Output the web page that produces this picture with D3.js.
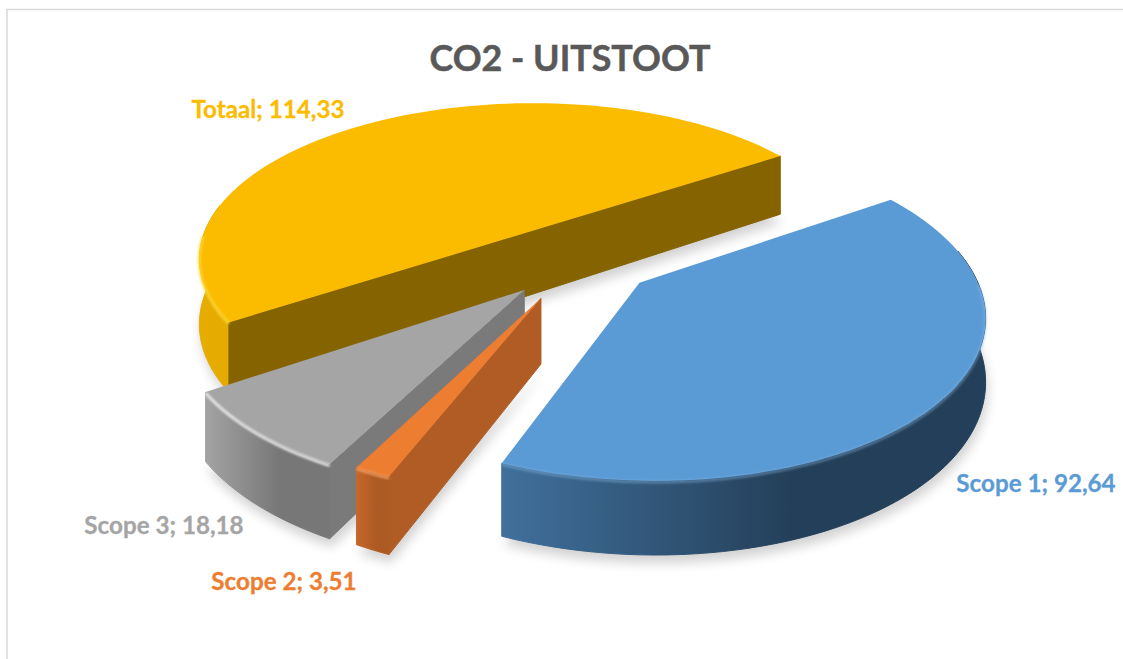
<!DOCTYPE html>
<html>
<head>
<meta charset="utf-8">
<script src="https://cdn.jsdelivr.net/npm/d3@7"></script>
<style>
  html, body { margin: 0; padding: 0; background: #fff; overflow: hidden; }
  text { font-family: Lato, "Open Sans", sans-serif; font-weight: 700; }
</style>
</head>
<body>
<svg id="chart" width="1123" height="659"></svg>
<script>
const categories = ["Scope 1", "Scope 2", "Scope 3", "Totaal"];
const values = [92.64, 3.51, 18.18, 114.33];
const title = "CO2 - UITSTOOT";

const top_colors = ["#5B9BD5", "#ED7D31", "#A5A5A5", "#FBBC00"];
const wall_colors = ["#243F59", "#B15C25", "#7A7A7A", "#856400"];
const rim_stops = [["#40709C", "#243F59"], ["#C4682B", "#AE5A24"], ["#A3A3A3", "#777777"], ["#E6AC00", "#D9A000"]];
const edge_colors = ["#8FC0EE", "#F7A266", "#E4E4E4", "#FFD93A"];
const edge_opacity = [0.4, 0.8, 1, 0.8];
const label_pos = [[1036, 492], [284, 590], [164, 534], [268, 118]];

// ground plane offset, radius and thickness of every slice
const slice_shift = [[77, 86], [-17, 116], [-33, 100], [-30, -20]];
const slice_radius = [324, 312, 325, 328];
const slice_depth = [59, 62, 60, 64];

const view = {cx: 559, cy: 241, k: 0.465, persp: 0.0005, first_angle: 56.5};

function project(u, v, z) {
    const s = 1 / (1 - view.persp * v);
    return [view.cx + u * s, view.cy + view.k * v * s + z * s];
}

const to_rad = Math.PI / 180;
const pie = d3.pie().sort(null).startAngle(view.first_angle * to_rad).endAngle((view.first_angle + 360) * to_rad);
const slices = pie(values).map((d, i) => ({...d, i: i, shift: slice_shift[i], r: slice_radius[i], depth: slice_depth[i]}));

function arc_ground(d) {
    const n = Math.max(4, Math.ceil((d.endAngle - d.startAngle) / to_rad / 2));
    return d3.range(n + 1).map(j => {
        const a = d.startAngle + (d.endAngle - d.startAngle) * j / n;
        return [d.shift[0] + d.r * Math.sin(a), d.shift[1] - d.r * Math.cos(a), a];
    });
}

const line = d3.line();
const at = (p, z) => project(p[0], p[1], z);

// a straight wall can be seen when the top of the slice lies above its edge
function wall_faces_viewer(apex, p, inside) {
    const a = at(apex, 0), b = at(p, 0), c = at(inside, 0);
    const edge_y = a[1] + (b[1] - a[1]) * (c[0] - a[0]) / (b[0] - a[0]);
    return c[1] < edge_y;
}

const svg = d3.select("#chart");
const defs = svg.append("defs");

const blur = (id, dev) => defs.append("filter").attr("id", id)
    .attr("x", "-20%").attr("y", "-20%").attr("width", "140%").attr("height", "140%")
    .append("feGaussianBlur").attr("stdDeviation", dev);
blur("shadow_blur", 6);
blur("edge_blur", 1);

slices.forEach(d => {
    const ground = arc_ground(d);
    const xs = d3.extent(ground, p => at(p, d.depth)[0]);
    const g = defs.append("linearGradient").attr("id", `rim_${d.i}`)
        .attr("gradientUnits", "userSpaceOnUse")
        .attr("x1", xs[0]).attr("x2", xs[0] + (xs[1] - xs[0]) * 0.6).attr("y1", 0).attr("y2", 0);
    g.append("stop").attr("offset", 0).attr("stop-color", rim_stops[d.i][0]);
    g.append("stop").attr("offset", 1).attr("stop-color", rim_stops[d.i][1]);
});

// chart frame runs past the right and bottom of the picture
svg.append("rect")
    .attr("x", 7).attr("y", 9.5).attr("width", 1300).attr("height", 800)
    .attr("fill", "#fff").attr("stroke", "#d9d9d9").attr("stroke-width", 1.5);

svg.append("text")
    .attr("x", 570).attr("y", 71)
    .attr("text-anchor", "middle")
    .attr("font-size", 35.8)
    .attr("fill", "#595959")
    .attr("stroke", "#595959")
    .attr("stroke-width", 0.5)
    .text(title);

// back to front
const order = [3, 2, 1, 0];

order.forEach(i => {
    const d = slices[i];
    const ground = arc_ground(d);
    const near = ground.filter(p => Math.cos(p[2]) < 0.2);
    const apex = d.shift;
    const inside = ground[Math.floor(ground.length / 2)];
    const g = svg.append("g").attr("class", "slice");

    const outline = z => [at(apex, z), ...ground.map(p => at(p, z))];

    g.append("path")
        .attr("d", line(outline(d.depth).map(p => [p[0] + 2, p[1] + 8])) + "Z")
        .attr("fill", "#000").attr("opacity", 0.18)
        .attr("filter", "url(#shadow_blur)");

    const rim = [...near.map(p => at(p, 0)), ...near.slice().reverse().map(p => at(p, d.depth))];
    g.append("path")
        .attr("d", line(rim) + "Z")
        .attr("fill", `url(#rim_${i})`)
        .attr("stroke", `url(#rim_${i})`)
        .attr("stroke-width", 1)
        .attr("stroke-linejoin", "round");

    [ground[0], ground[ground.length - 1]]
        .filter(p => wall_faces_viewer(apex, p, inside))
        .forEach(p => {
            const wall = [at(apex, 0), at(p, 0), at(p, d.depth), at(apex, d.depth)];
            g.append("path")
                .attr("d", line(wall) + "Z")
                .attr("fill", wall_colors[i])
                .attr("stroke", wall_colors[i])
                .attr("stroke-width", 1)
                .attr("stroke-linejoin", "round");
        });

    g.append("path")
        .attr("d", line(outline(0)) + "Z")
        .attr("fill", top_colors[i]);

    // soft bevel where the top meets the rim, only on the near side
    g.append("path")
        .attr("d", line(ground.filter(p => Math.cos(p[2]) < 0).map(p => at(p, 1))))
        .attr("fill", "none")
        .attr("stroke", edge_colors[i])
        .attr("stroke-width", 3)
        .attr("stroke-opacity", edge_opacity[i])
        .attr("filter", "url(#edge_blur)");
});

slices.forEach(d => {
    const color = top_colors[d.i];
    svg.append("text")
        .attr("x", label_pos[d.i][0]).attr("y", label_pos[d.i][1])
        .attr("text-anchor", "middle")
        .attr("font-size", 24.2)
        .attr("fill", color)
        .attr("stroke", color)
        .attr("stroke-width", 0.3)
        .text(`${categories[d.i]}; ${d.value.toFixed(2).replace(".", ",")}`);
});
</script>
</body>
</html>
